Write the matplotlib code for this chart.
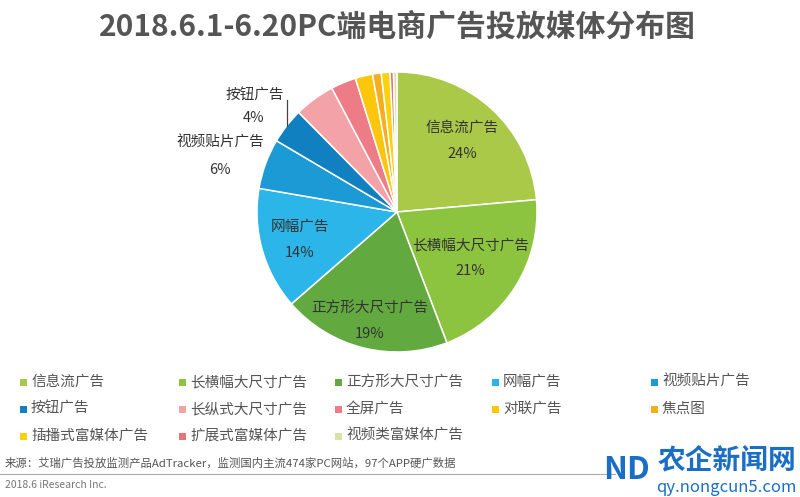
import matplotlib
matplotlib.use('Agg')
import matplotlib.pyplot as plt
from matplotlib.patches import Rectangle
import numpy as np

plt.rcParams['font.family'] = ['Noto Sans CJK SC', 'DejaVu Sans']

# data
categories = ['信息流广告', '长横幅大尺寸广告', '正方形大尺寸广告', '网幅广告', '视频贴片广告',
              '按钮广告', '长纵式大尺寸广告', '全屏广告', '对联广告', '焦点图',
              '插播式富媒体广告', '扩展式富媒体广告', '视频类富媒体广告']
shares = [23.6, 20.6, 19.4, 14.1, 5.8, 4.1, 4.7, 2.9, 2.0, 1.0, 1.0, 0.4, 0.4]
shown_pct = ['24%', '21%', '19%', '14%', '6%', '4%']
colors = ['#abc948', '#8cc33f', '#62a93f', '#2cb5e8', '#1b9ad6', '#1180c0',
          '#f3a3a8', '#ee7c87', '#fcc60c', '#f4ae20', '#fdd10c', '#e8747a', '#d6e3a6']

W, H = 800, 497
fig = plt.figure(figsize=(8, 4.97), dpi=100)
fig.patch.set_facecolor('white')

# pie axes, centre (397,212) px, radius 140 px
cx, cy, r = 397, 212, 140
ax = fig.add_axes([(cx - r) / W, (H - cy - r) / H, 2 * r / W, 2 * r / H])
wedges, _ = ax.pie(shares, colors=colors, startangle=90, counterclock=False,
                   radius=1, wedgeprops=dict(edgecolor='white', linewidth=1.1))
ax.set_xlim(-1, 1)
ax.set_ylim(-1, 1)
ax.set_aspect('equal')
ax.axis('off')

# inside labels
inner_r = [0.69, 0.62, 0.80, 0.72]
for i in range(4):
    w = wedges[i]
    mid = np.deg2rad((w.theta1 + w.theta2) / 2)
    x, y = inner_r[i] * np.cos(mid), inner_r[i] * np.sin(mid)
    ax.text(x, y + 0.09, categories[i], ha='center', va='center', fontsize=10.5, color='#333333')
    ax.text(x, y - 0.095, shown_pct[i], ha='center', va='center', fontsize=10.5, color='#333333')

# outside labels
ax.text(-1.014, 0.829, categories[5], ha='center', va='center', fontsize=10.5, color='#333333', clip_on=False)
ax.text(-1.021, 0.671, shown_pct[5], ha='center', va='center', fontsize=10.5, color='#333333', clip_on=False)
ax.plot([-0.786, -0.786], [0.80, 0.615], color='#444444', lw=0.9, clip_on=False)
ax.text(-1.264, 0.493, categories[4], ha='center', va='center', fontsize=10.5, color='#333333', clip_on=False)
ax.text(-1.264, 0.30, shown_pct[4], ha='center', va='center', fontsize=10.5, color='#333333', clip_on=False)

# overlay in pixel coordinates
ov = fig.add_axes([0, 0, 1, 1], zorder=-1)
ov.set_xlim(0, W)
ov.set_ylim(H, 0)
ov.axis('off')

ov.text(397, 27, '2018.6.1-6.20PC端电商广告投放媒体分布图', ha='center', va='center',
        fontsize=21.5, fontweight='bold', color='#555555')

# legend
col_x = [23, 182, 338, 495, 654]
row_y = [382, 409, 436]
for i, (name, c) in enumerate(zip(categories, colors)):
    x = col_x[i % 5]
    y = row_y[i // 5]
    ov.add_patch(Rectangle((x - 3.5, y - 3.5), 7, 7, facecolor=c, edgecolor='none'))
    ov.text(x + 8, y, name, ha='left', va='center', fontsize=10.5, color='#555555')

# footer
ov.text(5, 463, '来源：艾瑞广告投放监测产品AdTracker，监测国内主流474家PC网站，97个APP硬广数据',
        ha='left', va='center', fontsize=8.2, color='#555555')
ov.plot([0, 615], [474, 474], color='#aaaaaa', lw=0.8)
ov.text(5, 485, '2018.6 iResearch Inc.', ha='left', va='center', fontsize=7.5, color='#777777')

# watermark
ov.text(627, 470, 'ND', ha='center', va='center', fontsize=23, fontweight='bold', color='#1a6fc4')
ov.text(727, 460, '农企新闻网', ha='center', va='center', fontsize=20, fontweight='bold', color='#1a6fc4')
ov.text(726, 487, 'qy.nongcun5.com', ha='center', va='center', fontsize=12, color='#1a6fc4')

plt.savefig('out.png', dpi=100)
